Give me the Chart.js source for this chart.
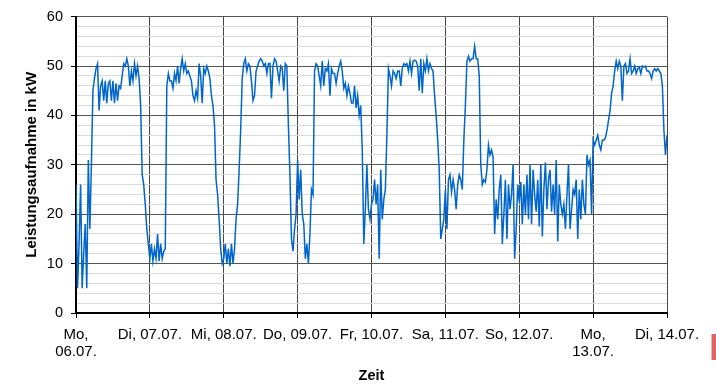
<!DOCTYPE html>
<html>
<head>
<meta charset="utf-8">
<script src="https://cdn.jsdelivr.net/npm/chart.js@4.4.1/dist/chart.umd.min.js"></script>
<style>
  body { margin: 0; background: #fff; }
  #wrap { position: relative; width: 716px; height: 385px; }
  #mark { position: absolute; left: 711px; top: 334px; width: 4px; height: 26px;
          background: #dc6464; border-left: 1px solid #f0b4b4; }
</style>
</head>
<body>
<div id="wrap">
  <canvas id="chart" width="716" height="385"></canvas>
  <div id="mark"></div>
</div>
<script>
// Leistungsaufnahme in kW, 48 Werte pro Tag (halbstündlich)
const mo0607 = [26, 5, 14, 26, 5, 12, 18, 5, 31, 17, 30, 45, 47.5, 49.5, 50.5, 41, 46, 47, 43, 47, 42.5, 46.5, 47, 43,
                47, 42.5, 46.5, 43, 46, 45.5, 48, 50.5, 50, 51.5, 50, 46, 49, 47, 50.5, 48, 50, 47.5, 42, 28, 26, 22, 17, 14];
const di0707 = [11, 14, 10.5, 13, 11, 16, 10.5, 14, 11, 12.5, 13, 46, 48.5, 47, 47, 45.5, 48.5, 47, 50, 46.5, 49.5, 51.5, 49, 50.5,
                48.5, 49, 48, 47, 44, 43, 45, 43.5, 50.5, 48, 42.5, 49.5, 48.5, 50, 49, 47.5, 44, 42, 38, 27, 24, 19, 13, 10];
const mi0807 = [11, 14, 10, 13, 9.5, 14, 10, 13, 19, 22, 29, 37, 47.5, 50.5, 51.5, 49, 50.5, 50, 47, 43, 44, 49, 50, 51,
                51.5, 51, 50, 50.5, 48.5, 50.5, 50.5, 43.5, 50, 51.5, 51, 49, 47, 50, 49.5, 45, 50.5, 50, 38, 28, 15, 12.5, 17, 20];
const do0907 = [31, 23, 29, 20, 18, 11, 14, 10, 16, 25, 24, 49, 50.5, 50, 48, 46, 51, 46, 49.5, 49, 50.5, 44, 49.5, 48.5,
                48.5, 46.5, 48.5, 50, 51, 49, 45.5, 46.5, 44, 46, 44.5, 42.5, 42.5, 46, 41.5, 44, 40, 42, 33, 14, 21, 30, 21, 19];
const fr1007 = [22, 23, 27, 22, 26, 11, 29, 19, 23, 25, 36, 49.5, 48, 46, 49, 48.5, 47.5, 49, 49, 46, 49.5, 50.5, 50.2, 50.5,
                49, 51, 48.5, 51, 51.2, 51, 50, 45, 51.5, 44.5, 50.5, 49, 51.5, 49, 50.5, 49.5, 49, 44, 40, 35, 29, 15, 17, 19];
const sa1107 = [25, 17, 27, 28, 24.5, 27, 25, 21, 26, 28, 27, 25, 35, 42, 51, 52, 51, 51.5, 51.5, 54, 51.5, 51.5, 48, 30,
                26, 27, 26.5, 29, 34, 32, 33, 31.5, 16, 23, 19, 25, 28, 14, 20, 27, 15, 26, 21, 24, 30, 11, 17, 26];
const so1207 = [22.5, 26.5, 18, 26, 20, 28, 19, 30, 18, 29, 24, 20.5, 27, 17.5, 30, 15.5, 25, 30.5, 21, 27, 29, 20.5, 26, 20,
                31, 14.5, 26, 22, 20, 22, 17, 24, 30, 17, 21, 25, 24, 27, 15, 25, 19, 27, 22, 20, 32, 30, 31, 20];
const mo1307 = [35, 34, 35, 36, 34, 33, 35, 35, 35.5, 37, 39, 41, 44.5, 46, 49, 51, 49.5, 51, 50, 43, 50, 50.5, 48.5, 49,
                51.5, 48.5, 49, 50, 48.5, 49.5, 49.8, 48.5, 50, 49.8, 50, 49, 49, 48.5, 47.5, 49, 49.5, 49, 49.5, 49, 48.5, 46, 37, 32];
const di1407 = [36];

const days = [mo0607, di0707, mi0807, do0907, fr1007, sa1107, so1207, mo1307, di1407];
const stepsPerDay = 48;
const dayLabels = [["Mo,", "06.07."], "Di, 07.07.", "Mi, 08.07.", "Do, 09.07.", "Fr, 10.07.",
                   "Sa, 11.07.", "So, 12.07.", ["Mo,", "13.07."], "Di, 14.07."];
const yTicks = [0, 10, 20, 30, 40, 50, 60];

let points = [];
days.forEach(function (d, k) {
    d.forEach(function (v, i) {
        points.push({x: k + i / stepsPerDay, y: v});
    });
});

const fam = "'Liberation Sans', Arial, sans-serif";

var config = {
    type: 'line',
    data: {
        datasets: [{
            data: points,
            borderColor: '#0066cc',
            borderWidth: 1.5,
            pointRadius: 0,
            tension: 0,
            fill: false
        }]
    },
    options: {
        responsive: false,
        animation: false,
        layout: {padding: {left: 0, top: 13, right: 49, bottom: 0}},
        plugins: {legend: {display: false}, tooltip: {enabled: false}},
        scales: {
            x: {
                type: 'linear',
                min: 0,
                max: days.length - 1,
                ticks: {
                    stepSize: 1,
                    autoSkip: false,
                    maxRotation: 0,
                    padding: 8,
                    color: '#000',
                    font: {family: fam, size: 15, lineHeight: 1.13},
                    callback: function (v) { return dayLabels[v]; }
                },
                grid: {color: '#474747', tickColor: '#000', tickLength: 5, lineWidth: 1},
                border: {color: '#000', width: 2},
                title: {display: true, text: 'Zeit', color: '#000', padding: 0,
                        font: {family: fam, size: 14.5, weight: 'bold'}},
                afterFit: function (s) { s.height = 72; }
            },
            y: {
                min: 0,
                max: 60,
                ticks: {
                    stepSize: 2,
                    autoSkip: false,
                    padding: 8,
                    color: '#000',
                    font: {family: fam, size: 14.5},
                    callback: function (v) { return yTicks.indexOf(v) >= 0 ? v : ''; }
                },
                grid: {
                    color: function (c) { return c.tick && c.tick.value % 10 === 0 ? '#555' : '#dadada'; },
                    tickColor: function (c) { return c.tick && c.tick.value % 10 === 0 ? '#000' : 'rgba(0,0,0,0)'; },
                    tickLength: 5,
                    lineWidth: 1
                },
                border: {color: '#000', width: 2},
                title: {display: true, text: 'Leistungsaufnahme in kW', color: '#000',
                        padding: {top: 23, bottom: 0},
                        font: {family: fam, size: 15, weight: 'bold'}},
                afterFit: function (s) { s.width = 76; }
            }
        }
    }
};

var chart = new Chart(document.getElementById("chart").getContext("2d"), config);
</script>
</body>
</html>
